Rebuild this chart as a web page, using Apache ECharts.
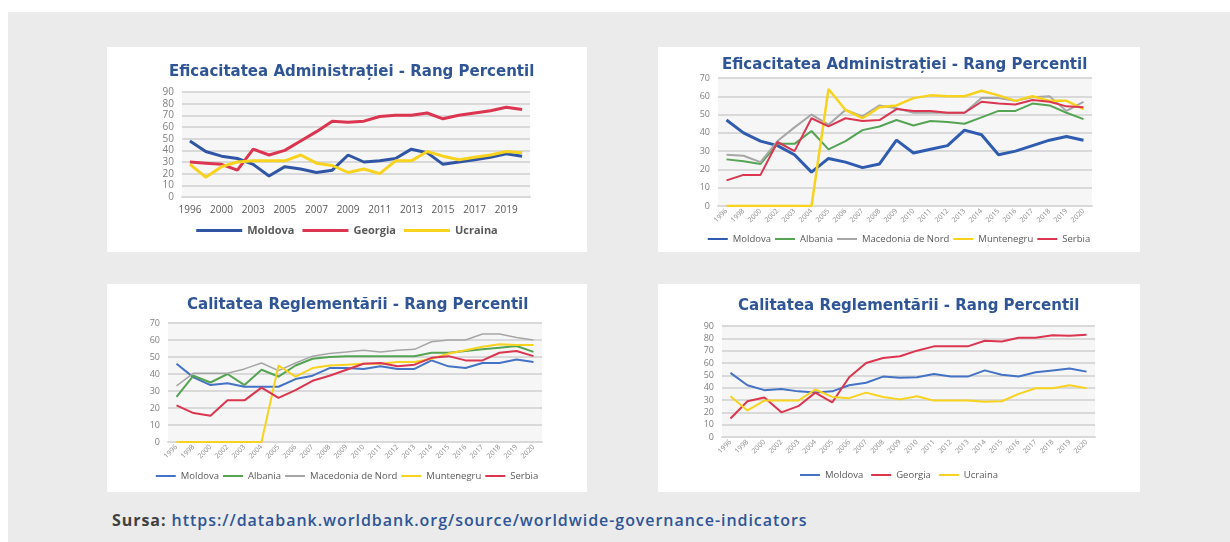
<!DOCTYPE html>
<html>
<head>
<meta charset="utf-8">
<script src="https://cdn.jsdelivr.net/npm/echarts@6/dist/echarts.min.js"></script>
<style>
  body { margin: 0; width: 1230px; height: 542px; background: #fff; position: relative; overflow: hidden; font-family: "Open Sans", sans-serif; }
  .bg { position: absolute; left: 8px; top: 12px; width: 1222px; height: 530px; background: #ebebeb; }
  .panel { position: absolute; background: #fff; }
  #efTop { left: 107px; top: 47px; width: 480px; height: 205px; }
  #efBalkan { left: 658px; top: 47px; width: 482px; height: 205px; }
  #crBalkan { left: 107px; top: 284px; width: 480px; height: 208px; }
  #crTop { left: 658px; top: 284px; width: 482px; height: 208px; }
  .sursa { position: absolute; left: 112px; top: 509px; font-size: 16px; letter-spacing: 0.95px; font-weight: 600; color: #2f5597; white-space: nowrap; }
  .sursa b { color: #404040; font-weight: 700; }
</style>
</head>
<body>
<div class="bg"></div>
<div class="panel" id="efTop"></div>
<div class="panel" id="efBalkan"></div>
<div class="panel" id="crBalkan"></div>
<div class="panel" id="crTop"></div>
<div class="sursa"><b>Sursa:</b> https://databank.worldbank.org/source/worldwide-governance-indicators</div>

<script>
  // ani (WGI)
  var years = ['1996', '1998', '2000', '2002', '2003', '2004', '2005', '2006', '2007', '2008', '2009',
    '2010', '2011', '2012', '2013', '2014', '2015', '2016', '2017', '2018', '2019', '2020'];

  /* Eficacitatea Administratiei - Moldova, Georgia, Ucraina */
  var efMoldova = [48, 39, 35, 33, 28, 18, 26, 24, 21, 23, 36, 30, 31, 33, 41, 38, 28, 30, 32, 34, 37, 35];
  var efGeorgia = [30, 29, 28, 23, 41, 36, 40, 48, 56, 65, 64, 65, 69, 70, 70, 72, 67, 70, 72, 74, 77, 75];
  var efUcraina = [28, 17, 26, 30, 31, 31, 31, 36, 29, 27, 21, 24, 20, 31, 31, 39, 35, 32, 34, 36, 39, 38];

  /* Eficacitatea Administratiei - Balcani */
  var efMoldova2 = [47, 40, 35.5, 33, 28, 18.5, 26, 24, 21, 23, 36, 29, 31, 33, 41.5, 39, 28, 30, 33, 36, 38, 36];
  var efAlbania = [25.5, 24.5, 23, 34, 34, 41, 31, 35.5, 41.5, 43.5, 47, 44, 46.5, 46, 45, 48.5, 52, 52, 56, 55, 51, 47.5];
  var efMacedonia = [28, 27.5, 24, 35.5, 43, 50, 44.5, 52.5, 49, 55, 53.5, 51, 51, 51, 51, 59, 59, 57.5, 59.5, 60, 52, 57];
  var efMuntenegru = [0, 0, 0, 0, 0, 0, 64, 52.5, 48, 54, 55, 59, 60.5, 60, 60, 63, 60.5, 57.5, 60, 57.5, 57.5, 53];
  var efSerbia = [14, 17, 17, 35, 30, 48, 43.5, 48, 46.5, 47, 53, 52, 52, 51, 51, 57, 56, 55.5, 58, 57, 54.5, 54];

  /* Calitatea Reglementarii - Balcani */
  var crMoldova = [46, 38, 33.5, 34.5, 32.5, 32.5, 32.5, 37, 39, 43.5, 43.5, 43, 44.5, 43, 43, 48, 44.5, 43.5, 46.5, 46.5, 48.5, 47];
  var crAlbania = [26.5, 39, 35, 40, 33.5, 42.5, 38.5, 45, 49, 50, 50.5, 50.5, 50.5, 50.5, 50.5, 52.5, 52.5, 53.5, 54.5, 55.5, 56.5, 53];
  var crMacedonia = [33, 40.5, 40.5, 40.5, 43, 46.5, 42, 46.5, 50.5, 52, 53, 54, 53, 54, 54.5, 59, 60, 60, 63.5, 63.5, 61.5, 60];
  var crMuntenegru = [0, 0, 0, 0, 0, 0, 45, 38.5, 43.5, 45, 45.5, 46, 46, 47, 47, 49, 52, 54, 56, 57.5, 57, 57];
  var crSerbia = [21.5, 17, 15.5, 24.5, 24.5, 32, 26, 30.5, 36, 39, 42.5, 46, 46.5, 44.5, 45.5, 49.5, 50.5, 48, 48, 52.5, 53.5, 50.5];

  /* Calitatea Reglementarii - Moldova, Georgia, Ucraina */
  var crMoldova2 = [52, 42, 38, 39, 37, 36, 37, 42, 44, 49, 48, 48.5, 51, 49, 49, 54, 50.5, 49, 52.5, 54, 55.5, 53];
  var crGeorgia = [15, 29, 32, 20, 25, 36, 28, 48.5, 60, 64, 65.5, 70, 73.5, 73.5, 73.5, 78, 77.5, 80.5, 80.5, 82.5, 82, 83];
  var crUcraina = [33, 21.5, 29.5, 29.5, 29.5, 38.5, 32.5, 31.5, 36, 32.5, 30.5, 33, 29.5, 29.5, 29.5, 28.5, 29, 35, 39.5, 39.5, 42, 39.5];

  /* culori */
  var red = '#db3550', yellow = '#f7d21e', green = '#55a454', grey = '#a6a6a6';

  /* stil comun */
  var titleStyle = { color: '#2f5597', fontSize: 15, fontWeight: 'bold', fontFamily: 'DejaVu Sans' };
  var gridBg = '#f6f6f6';
  var splitLine = { lineStyle: { color: '#d9d9d9', width: 2 } };

  function yAxis(max, size) {
    return {
      type: 'value', min: 0, max: max, interval: 10,
      axisLine: { show: false }, axisTick: { show: false },
      axisLabel: { color: '#7f7f7f', fontSize: size, margin: 8, fontFamily: 'Open Sans' },
      splitLine: splitLine
    };
  }

  // axa x cu etichete rotite (graficele cu ani mici)
  function xRotated() {
    return {
      type: 'category', data: years, boundaryGap: true,
      axisLine: { lineStyle: { color: '#d9d9d9', width: 2 } },
      axisTick: { show: false },
      axisLabel: { interval: 0, rotate: 45, fontSize: 7, color: '#8c8c8c', margin: 4, fontFamily: 'Open Sans' }
    };
  }

  // legenda mica (cu linie subtire)
  function smallLegend(top, gap) {
    return {
      top: top, left: 'center', icon: 'rect', itemWidth: 20, itemHeight: 2, itemGap: gap,
      textStyle: { color: '#595959', fontSize: 9.5, fontFamily: 'Open Sans' }
    };
  }

  function line(name, data, color, width) {
    return { name: name, type: 'line', data: data, symbol: 'none', smooth: false,
      lineStyle: { color: color, width: width }, itemStyle: { color: color } };
  }

  /* grafic 1 */
  var c1 = echarts.init(document.getElementById('efTop'));
  c1.setOption({
    animation: false,
    title: { text: 'Eficacitatea Administrației - Rang Percentil', left: 57, top: 13, textStyle: titleStyle },
    grid: { left: 75, right: 57, top: 45, bottom: 55, show: true, backgroundColor: gridBg, borderWidth: 0 },
    xAxis: {
      type: 'category', data: years, boundaryGap: true,
      axisLine: { lineStyle: { color: '#d9d9d9', width: 2 } },
      axisTick: { show: false },
      axisLabel: { interval: 1, fontSize: 10, color: '#595959', margin: 8, fontFamily: 'Open Sans' }
    },
    yAxis: yAxis(90, 10),
    legend: {
      top: 173, left: 'center', icon: 'rect', itemWidth: 46, itemHeight: 3, itemGap: 8,
      textStyle: { color: '#595959', fontSize: 11, fontWeight: 'bold', fontFamily: 'Open Sans' }
    },
    series: [
      line('Moldova', efMoldova, '#2f55a4', 3),
      line('Georgia', efGeorgia, red, 3),
      line('Ucraina', efUcraina, yellow, 3)
    ]
  });

  /* grafic 2 */
  var c2 = echarts.init(document.getElementById('efBalkan'));
  c2.setOption({
    animation: false,
    title: { text: 'Eficacitatea Administrației - Rang Percentil', left: 59, top: 6, textStyle: titleStyle },
    grid: { left: 60, right: 48, top: 31, bottom: 46, show: true, backgroundColor: gridBg, borderWidth: 0 },
    xAxis: xRotated(),
    yAxis: yAxis(70, 9),
    legend: smallLegend(182, 4),
    series: [
      line('Moldova', efMoldova2, '#2f5cb0', 3),
      line('Albania', efAlbania, green, 2),
      line('Macedonia de Nord', efMacedonia, grey, 2),
      line('Muntenegru', efMuntenegru, yellow, 2.5),
      line('Serbia', efSerbia, red, 2)
    ]
  });

  /* grafic 3 */
  var c3 = echarts.init(document.getElementById('crBalkan'));
  c3.setOption({
    animation: false,
    title: { text: 'Calitatea Reglementării - Rang Percentil', left: 75, top: 9, textStyle: titleStyle },
    grid: { left: 61, right: 45, top: 39, bottom: 50, show: true, backgroundColor: gridBg, borderWidth: 0 },
    xAxis: xRotated(),
    yAxis: yAxis(70, 9),
    legend: smallLegend(182, 4),
    series: [
      line('Moldova', crMoldova, '#4472c4', 2),
      line('Albania', crAlbania, green, 2),
      line('Macedonia de Nord', crMacedonia, grey, 1.5),
      line('Muntenegru', crMuntenegru, yellow, 2),
      line('Serbia', crSerbia, red, 2)
    ]
  });

  /* grafic 4 */
  var c4 = echarts.init(document.getElementById('crTop'));
  c4.setOption({
    animation: false,
    title: { text: 'Calitatea Reglementării - Rang Percentil', left: 75, top: 10, textStyle: titleStyle },
    grid: { left: 64, right: 45, top: 42, bottom: 55, show: true, backgroundColor: gridBg, borderWidth: 0 },
    xAxis: xRotated(),
    yAxis: yAxis(90, 9),
    legend: smallLegend(181, 8),
    series: [
      line('Moldova', crMoldova2, '#4472c4', 2),
      line('Georgia', crGeorgia, red, 2),
      line('Ucraina', crUcraina, yellow, 2)
    ]
  });
</script>
</body>
</html>
